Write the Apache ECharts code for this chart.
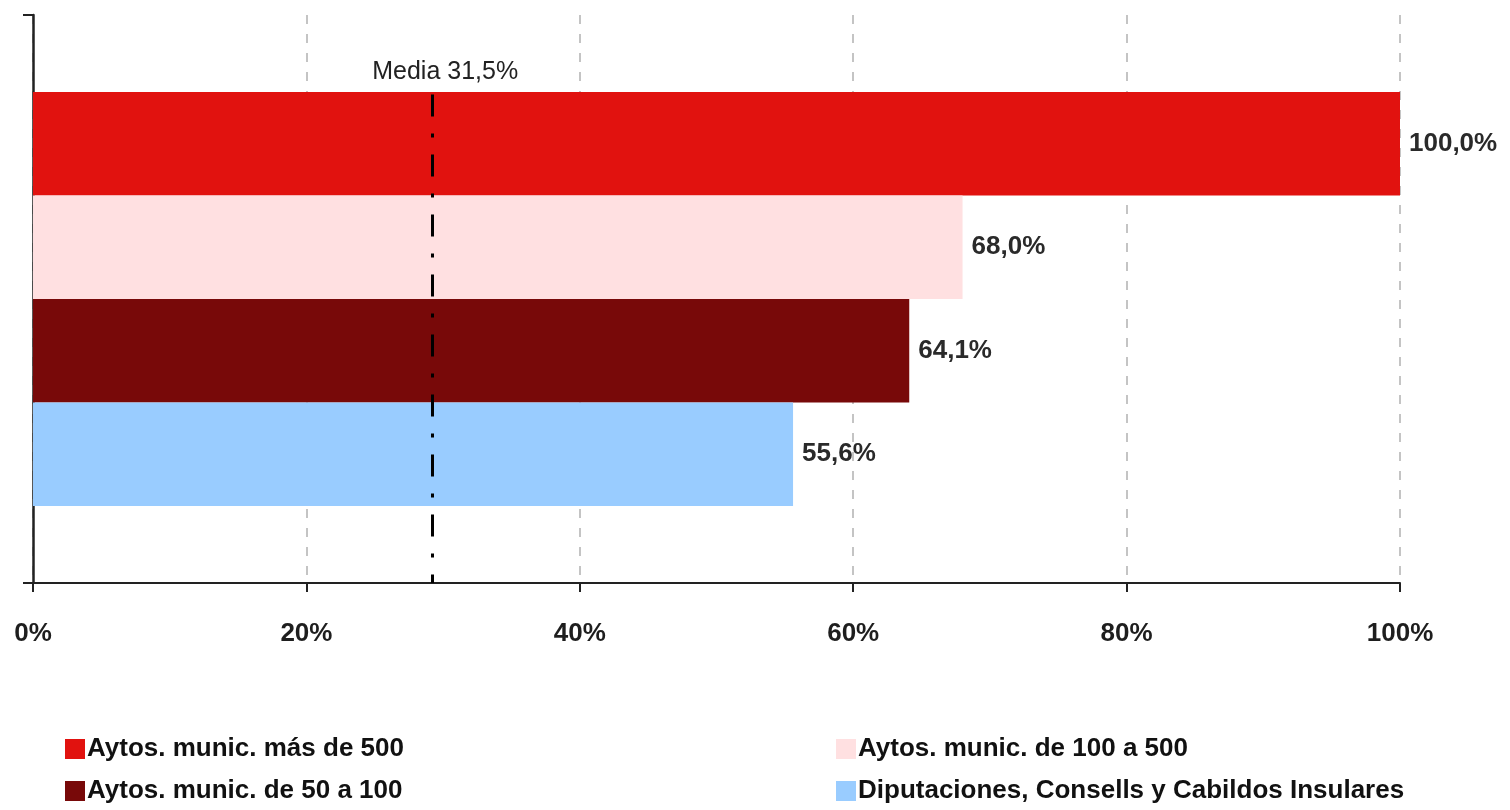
<!DOCTYPE html>
<html>
<head>
<meta charset="utf-8">
<script src="https://cdn.jsdelivr.net/npm/echarts@6/dist/echarts.min.js"></script>
<style>html,body{margin:0;padding:0;background:#fff;}#c{width:1510px;height:810px;}</style>
</head>
<body>
<div id="c"></div>
<script>
var categories = [''];
var seriesNames = ['Aytos. munic. más de 500', 'Aytos. munic. de 100 a 500', 'Aytos. munic. de 50 a 100', 'Diputaciones, Consells y Cabildos Insulares'];
var seriesValues = [100.0, 68.0, 64.1, 55.6];
var seriesColors = ['#E1120F', '#FFE0E1', '#780909', '#99CCFF'];
var xTicks = [0, 20, 40, 60, 80, 100];
var mediaLabel = 'Media 31,5%';
var mediaPosition = 29.2;

var FONT = '"Liberation Sans", Arial, sans-serif';
var chart = echarts.init(document.getElementById('c'));

function fmt(v) { return v.toFixed(1).replace('.', ',') + '%'; }

var series = seriesNames.map(function (n, i) {
  return {
    name: n,
    type: 'bar',
    xAxisIndex: 0,
    yAxisIndex: 0,
    barWidth: 103.5,
    barGap: '0%',
    itemStyle: { color: seriesColors[i] },
    label: {
      show: true, position: 'right', distance: 9,
      formatter: function (p) { return fmt(p.value); },
      fontFamily: FONT, fontSize: 26, fontWeight: 'bold', color: '#2a2a2a'
    },
    data: [seriesValues[i]]
  };
});

series.push({
  name: 'media',
  type: 'line',
  xAxisIndex: 0,
  yAxisIndex: 1,
  data: [],
  silent: true,
  markLine: {
    symbol: ['none', 'none'],
    silent: true,
    animation: false,
    lineStyle: { color: '#000', width: 3, type: [22, 17, 4, 17], cap: 'butt' },
    label: {
      show: true, position: 'start', formatter: mediaLabel, distance: 10, offset: [13, 0],
      fontFamily: FONT, fontSize: 25, color: '#222'
    },
    data: [[{ coord: [mediaPosition, 0.86] }, { coord: [mediaPosition, 0] }]]
  }
});

function legendItem(name, left, top) {
  return {
    left: left, top: top, padding: 0, data: [name], icon: 'rect', itemWidth: 20, itemHeight: 20,
    textStyle: { fontFamily: FONT, fontSize: 26, fontWeight: 'bold', color: '#111', padding: [0, 0, 0, -3] }
  };
}

chart.setOption({
  animation: false,
  backgroundColor: '#fff',
  grid: { left: 33, right: 110, top: 15, bottom: 227, containLabel: false },
  xAxis: [{
    type: 'value', min: 0, max: 100, interval: 20,
    axisLine: { show: true, lineStyle: { color: '#222', width: 2 } },
    axisTick: { show: true, length: 9, lineStyle: { color: '#222', width: 2 } },
    axisLabel: {
      margin: 38, fontFamily: FONT, fontSize: 26, fontWeight: 'bold', color: '#1e1e1e',
      formatter: function (v) { return xTicks.indexOf(v) >= 0 ? v + '%' : ''; }
    },
    splitLine: { show: true, lineStyle: { color: '#c4c4c4', width: 2, type: [9, 10] } }
  }],
  yAxis: [{
    type: 'category', data: categories,
    axisLine: { show: true, lineStyle: { color: '#222', width: 2.5 } },
    axisTick: { show: true, length: 10, lineStyle: { color: '#222', width: 2 } },
    axisLabel: { show: false },
    splitLine: { show: false }
  }, {
    type: 'value', min: 0, max: 1, show: false
  }],
  legend: [
    legendItem(seriesNames[0], 65, 736),
    legendItem(seriesNames[2], 65, 778),
    legendItem(seriesNames[1], 836, 736),
    legendItem(seriesNames[3], 836, 778)
  ],
  series: series
});
</script>
</body>
</html>
